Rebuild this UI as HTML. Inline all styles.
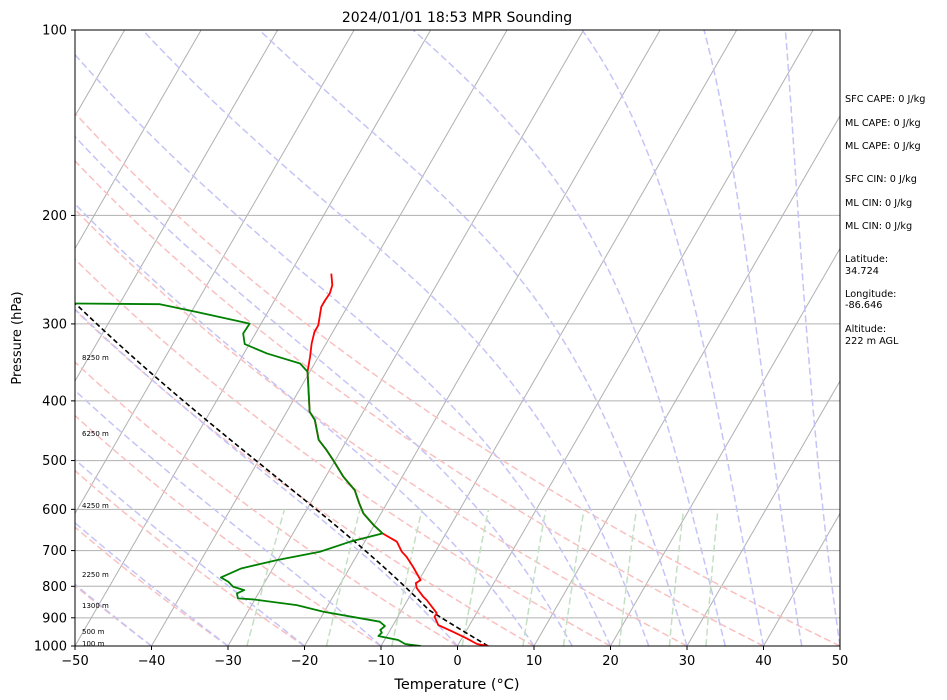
<!DOCTYPE html>
<html><head><meta charset="utf-8"><style>
html,body{margin:0;padding:0;background:#fff;}
svg{display:block;font-family:"DejaVu Sans","Liberation Sans",sans-serif;}
</style></head><body>
<svg id="chart" width="947" height="700" viewBox="0 0 947 700" xmlns="http://www.w3.org/2000/svg">
<defs><clipPath id="plotclip"><rect x="75" y="30" width="765" height="616"/></clipPath></defs>
<rect x="0" y="0" width="947" height="700" fill="#fff"/>
<text x="457" y="22" font-size="14" text-anchor="middle" fill="#000">2024/01/01 18:53 MPR Sounding</text>
<g id="bg" clip-path="url(#plotclip)"></g>
<g id="series" clip-path="url(#plotclip)"></g>
<g id="axes"></g>
<g font-size="7" fill="#000">
<text x="82" y="360">8250 m</text><text x="82" y="436">6250 m</text><text x="82" y="508">4250 m</text>
<text x="82" y="577">2250 m</text><text x="82" y="608">1300 m</text><text x="82" y="634">500 m</text><text x="82" y="646">100 m</text>
</g>
<g font-size="9.7" fill="#000">
<text x="845" y="102">SFC CAPE: 0 J/kg</text><text x="845" y="126">ML CAPE: 0 J/kg</text><text x="845" y="149">ML CAPE: 0 J/kg</text>
<text x="845" y="182">SFC CIN: 0 J/kg</text><text x="845" y="206">ML CIN: 0 J/kg</text><text x="845" y="229">ML CIN: 0 J/kg</text>
<text x="845" y="262">Latitude:</text><text x="845" y="274">34.724</text>
<text x="845" y="297">Longitude:</text><text x="845" y="308">-86.646</text>
<text x="845" y="332">Altitude:</text><text x="845" y="344">222 m AGL</text>
</g>
<text x="457" y="689" font-size="14.5" text-anchor="middle">Temperature (°C)</text>
<text x="0" y="0" font-size="13" text-anchor="middle" transform="translate(21,338) rotate(-90)">Pressure (hPa)</text>
</svg>
<script>
const tempP=[1000,992.5,971.6,947.9,924.6,896.4,884.2,842,831.7,805.3,790.5,781.7,743.6,716.3,702.9,677.1,656.4,636.2,609.2,586.9,558.4,531.1,498.9,480.8,462.8,429.7,416.7,358.7,339.2,322.7,309.2,301.6,281.6,274.6,267.8,259.5,248.6];
const tempT=[4.0,2.4,0.6,-1.7,-4.1,-5.2,-5.2,-7.5,-8.2,-9.7,-10.2,-9.8,-11.8,-13.4,-14.4,-15.8,-18.3,-20.1,-22.3,-23.6,-25.2,-27.7,-30.3,-31.9,-33.7,-35.7,-37.0,-40.3,-41.1,-41.9,-42.4,-42.4,-43.4,-43.4,-43.3,-43.6,-44.6];
const dewP=[1000,992.5,977.8,963.3,951.5,941.9,928.0,913.1,879.9,858.3,840.2,837.0,821.6,811.4,801.4,786.6,773.9,748.0,725.4,703.0,677.1,656.4,636.2,609.2,586.9,558.4,531.1,498.9,480.8,462.8,429.7,416.7,358.7,347.8,335.0,323.5,311.0,299.7,286.9,278.7,278.0];
const dewT=[-4.8,-7.0,-8.2,-11.1,-10.9,-11.3,-11.0,-12.0,-20.1,-24.1,-30.2,-32.3,-32.8,-32.1,-33.8,-34.8,-36.1,-34.1,-30.1,-25.1,-21.9,-18.3,-20.1,-22.3,-23.6,-25.2,-27.7,-30.3,-31.9,-33.7,-35.7,-37.0,-40.3,-41.9,-47.0,-50.6,-51.6,-51.5,-59.3,-64.7,-75.8];
const pTicks=[100,200,300,400,500,600,700,800,900,1000];
const tTicks=[-50,-40,-30,-20,-10,0,10,20,30,40,50];
const dryT0=[-50,-40,-30,-20,-10,0,10,20,30,40,50];
const moistT0=[-50,-40,-30,-20,-10,0,10,15,20,25,30,35,40,45,50];
const mixW=[0.0004,0.001,0.002,0.004,0.007,0.01,0.016,0.024,0.032];

const NS='http://www.w3.org/2000/svg';
const X0=75,X1=840,Y0=30,Y1=646,SK=Math.tan(Math.PI/6);
function py(p){return Y1-Math.log10(1000/p)*616;}
function tx(T,p){return X0+(T+50)*7.65+(Y1-py(p))*SK;}
function mk(tag,attrs,parent){const e=document.createElementNS(NS,tag);for(const k in attrs)e.setAttribute(k,attrs[k]);parent.appendChild(e);return e;}
function pathFrom(Ts,Ps){let d='';for(let i=0;i<Ts.length;i++){d+=(i?'L':'M')+tx(Ts[i],Ps[i]).toFixed(2)+','+py(Ps[i]).toFixed(2);}return d;}
const bg=document.getElementById('bg'),ser=document.getElementById('series'),ax=document.getElementById('axes');
const pLevels=[];for(let p=1000;p>=100;p-=10)pLevels.push(p);
for(let T=-160;T<=50;T+=10){
  const l=mk('line',{x1:tx(T,1000),y1:py(1000),x2:tx(T,100),y2:py(100),stroke:'#b0b0b0','stroke-width':1},bg);
  
  
}
pTicks.forEach(p=>{
  const l=mk('line',{x1:X0,y1:py(p),x2:X1,y2:py(p),stroke:'#b0b0b0','stroke-width':1},bg);
  
  
});
dryT0.forEach(t0=>{
  const th=t0+273.15;const Ts=pLevels.map(p=>th*Math.pow(p/1000,0.2857)-273.15);
  const e=mk('path',{d:pathFrom(Ts,pLevels),fill:'none',stroke:'#f9c0c0','stroke-width':1.5,'stroke-dasharray':'7,3.5'},bg);
  
  
});
function dTdp(T,p){const es=6.112*Math.exp(17.67*(T-273.15)/(T-29.65));const rs=0.622*es/(p-es);
  return ((287.04*T+2.501e6*rs)/p)/(1005.7+2.501e6*2.501e6*rs*0.622/(287.04*T*T));}
function moistFrom(T0,p0,pEnd){const Ts=[],Ps=[];let T=T0+273.15,p=p0;Ts.push(T-273.15);Ps.push(p);
  while(p>pEnd){const dp=-Math.min(5,p-pEnd);const k1=dTdp(T,p),k2=dTdp(T+k1*dp/2,p+dp/2),k3=dTdp(T+k2*dp/2,p+dp/2),k4=dTdp(T+k3*dp,p+dp);
    T+=dp*(k1+2*k2+2*k3+k4)/6;p+=dp;Ts.push(T-273.15);Ps.push(p);}return [Ts,Ps];}
moistT0.forEach(t0=>{
  const r=moistFrom(t0,1000,100);
  const e=mk('path',{d:pathFrom(r[0],r[1]),fill:'none',stroke:'#c4c4f7','stroke-width':1.5,'stroke-dasharray':'7,3.5'},bg);
  
  
});
const mixP=[];for(let p=1000;p>=600;p-=20)mixP.push(p);
mixW.forEach(w=>{
  const Ts=mixP.map(p=>{const e=p*w/(0.622+w);const l=Math.log(e/6.112);return 243.5*l/(17.67-l);});
  const e=mk('path',{d:pathFrom(Ts,mixP),fill:'none',stroke:'#c4e0c4','stroke-width':1.5,'stroke-dasharray':'7,3.5'},bg);
  
  
});
(function(){
  const T0=tempT[0],Td0=dewT[0],p0=tempP[0];
  const Tl=Td0-(0.001296*Td0+0.1963)*(T0-Td0);
  const pl=p0*Math.pow((Tl+273.15)/(T0+273.15),3.5);
  const Ts=[],Ps=[];for(let p=p0;p>pl;p-=5){Ts.push((T0+273.15)*Math.pow(p/p0,0.2857)-273.15);Ps.push(p);}
  Ts.push(Tl);Ps.push(pl);
  const r=moistFrom(Tl,pl,100);
  const e=mk('path',{d:pathFrom(Ts.concat(r[0].slice(1)),Ps.concat(r[1].slice(1))),fill:'none',stroke:'#000','stroke-width':1.6,'stroke-dasharray':'5,3'},ser);
  
  
})();
const tl=mk('path',{d:pathFrom(tempT,tempP),fill:'none',stroke:'#ff0000','stroke-width':1.8,'stroke-linejoin':'round'},ser);


const dl=mk('path',{d:pathFrom(dewT,dewP),fill:'none',stroke:'#008000','stroke-width':1.8,'stroke-linejoin':'round'},ser);


const fr=mk('rect',{x:X0,y:Y0,width:X1-X0,height:Y1-Y0,fill:'none',stroke:'#000','stroke-width':1},ax);


pTicks.forEach(p=>{
  mk('line',{x1:X0-4,y1:py(p),x2:X0,y2:py(p),stroke:'#000','stroke-width':1},ax);
  const t=mk('text',{x:X0-8,y:py(p)+4.5,'font-size':13,'text-anchor':'end'},ax);t.textContent=p;
  
  
});
tTicks.forEach(T=>{
  const x=X0+(T+50)*7.65;
  mk('line',{x1:x,y1:Y1,x2:x,y2:Y1+4,stroke:'#000','stroke-width':1},ax);
  const t=mk('text',{x:x,y:Y1+19,'font-size':13,'text-anchor':'middle'},ax);t.textContent=(T<0?'\u2212'+(-T):T);
  
  
});
</script>
</body></html>
